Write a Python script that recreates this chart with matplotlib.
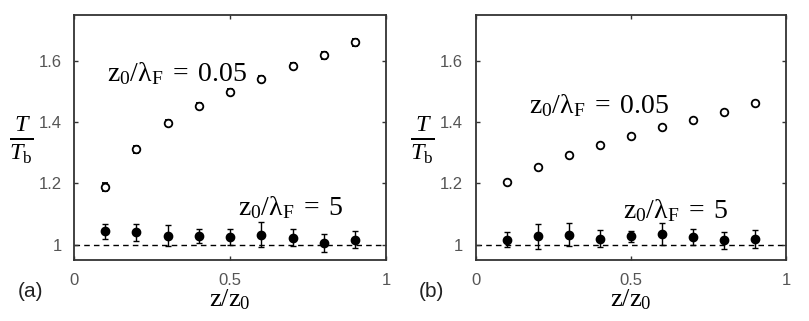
import numpy as np
import matplotlib
matplotlib.use('Agg')
import matplotlib.pyplot as plt

# data
z = [0.1, 0.2, 0.3, 0.4, 0.5, 0.6, 0.7, 0.8, 0.9]

# panel (a)
a_low = [1.188, 1.312, 1.398, 1.454, 1.500, 1.542, 1.583, 1.618, 1.661]
a_low_err = [0.012, 0.012, 0.010, 0.010, 0.010, 0.010, 0.010, 0.010, 0.012]
a_high = [1.044, 1.040, 1.030, 1.027, 1.025, 1.032, 1.023, 1.005, 1.016]
a_high_err = [0.025, 0.029, 0.035, 0.023, 0.026, 0.041, 0.027, 0.030, 0.028]

# panel (b)
b_low = [1.205, 1.253, 1.292, 1.327, 1.356, 1.383, 1.408, 1.435, 1.463]
b_low_err = [0.004, 0.004, 0.004, 0.004, 0.004, 0.004, 0.004, 0.004, 0.005]
b_high = [1.016, 1.027, 1.033, 1.019, 1.027, 1.035, 1.025, 1.014, 1.019]
b_high_err = [0.024, 0.041, 0.037, 0.028, 0.019, 0.035, 0.025, 0.027, 0.030]

plt.rcParams['font.family'] = ['Liberation Sans', 'DejaVu Sans']
plt.rcParams['mathtext.fontset'] = 'custom'
plt.rcParams['mathtext.rm'] = 'Liberation Serif'
plt.rcParams['mathtext.it'] = 'Liberation Serif:italic'
plt.rcParams['mathtext.bf'] = 'Liberation Serif:bold'

fig = plt.figure(figsize=(8.09, 3.21), dpi=100)
ax1 = fig.add_axes([0.0915, 0.19, 0.386, 0.763])
ax2 = fig.add_axes([0.588, 0.19, 0.384, 0.763])

panels = [
    (ax1, a_low, a_low_err, a_high, a_high_err, (0.106, 1.56), (0.526, 1.12)),
    (ax2, b_low, b_low_err, b_high, b_high_err, (0.17, 1.455), (0.473, 1.11)),
]

for ax, lo, lo_err, hi, hi_err, pos1, pos2 in panels:
    ax.axhline(1, color='black', ls=(0, (4, 3)), lw=1.0, zorder=1)
    ax.errorbar(z, lo, yerr=lo_err, fmt='o', mfc='white', mec='black', mew=1.3,
                ms=5.5, ecolor='black', elinewidth=1.0, capsize=2.5, zorder=3)
    ax.errorbar(z, hi, yerr=hi_err, fmt='o', mfc='black', mec='black',
                ms=6, ecolor='black', elinewidth=1.0, capsize=2.5, zorder=3)

    ax.set_xlim(0, 1)
    ax.set_ylim(0.95, 1.75)
    ax.set_xticks([0, 0.5, 1])
    ax.set_xticklabels(['0', '0.5', '1'])
    ax.set_yticks([1, 1.2, 1.4, 1.6])
    ax.set_yticklabels(['1', '1.2', '1.4', '1.6'])
    ax.tick_params(direction='in', top=True, right=True, length=3, width=1,
                   labelsize=12, labelcolor='#555555', color='#333333')
    ax.tick_params(axis='x', pad=9)
    ax.tick_params(axis='y', pad=9)
    for s in ax.spines.values():
        s.set_linewidth(1.3)
        s.set_color('#333333')

    ax.text(pos1[0], pos1[1], r'$\mathrm{z_0/\lambda_F\;=\;0.05}$', fontsize=20,
            va='center', ha='left')
    ax.text(pos2[0], pos2[1], r'$\mathrm{z_0/\lambda_F\;=\;5}$', fontsize=20,
            va='center', ha='left')

    ax.set_xlabel(r'$\mathrm{z/z_0}$', fontsize=19, labelpad=0)

fig.text(0.026, 0.565, r'$\frac{T}{T_\mathrm{b}}$', fontsize=25, ha='center', va='center')
fig.text(0.522, 0.565, r'$\frac{T}{T_\mathrm{b}}$', fontsize=25, ha='center', va='center')
fig.text(0.038, 0.093, '(a)', fontsize=15, ha='center', va='center', color='#222222')
fig.text(0.533, 0.093, '(b)', fontsize=15, ha='center', va='center', color='#222222')

fig.savefig('out.png', dpi=100)
